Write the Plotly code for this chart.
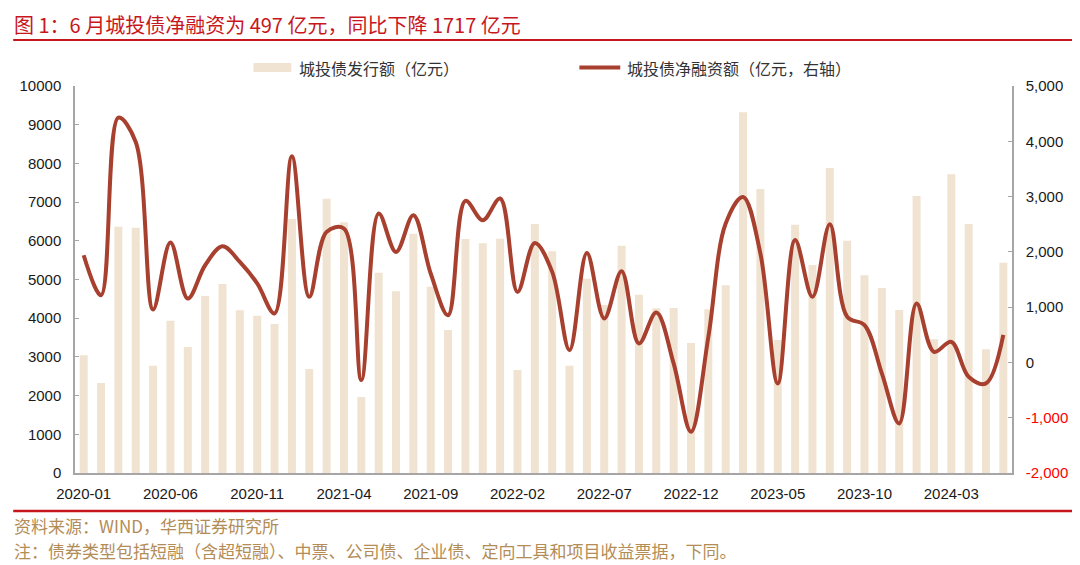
import plotly.graph_objects as go
import pandas as pd

months = [p.strftime("%Y-%m") for p in pd.period_range("2020-01", "2024-06", freq="M")]

issuance = [3041, 2326, 6365, 6339, 2773, 3937, 3256, 4574, 4884, 4203, 4066, 3850,
            6563, 2687, 7089, 6477, 1964, 5176, 4694, 6184, 4815, 3695, 6047, 5935,
            6055, 2662, 6434, 5728, 2773, 5021, 4341, 5874, 4608, 4255, 4264, 3359,
            4229, 4850, 9320, 7339, 3437, 6416, 5375, 7881, 6003, 5108, 4780, 4212,
            7158, 3455, 7718, 6434, 3196, 5434]

net_financing = [1939, 1216, 4428, 3988, 958, 2168, 1156, 1758, 2102, 1818, 1428, 885,
                 3728, 1186, 2361, 2422, -320, 2693, 1999, 2662, 1608, 855, 2921, 2572,
                 2964, 1276, 2162, 1638, 222, 1981, 795, 1650, 343, 903, -18, -1254,
                 460, 2512, 2993, 1970, -380, 2214, 1186, 2500, 825, 674, -199, -1103,
                 1066, 192, 373, -260, -380, 497]

x_tick_labels = months[::5]
left_ticks = list(range(0, 10001, 1000))
right_ticks = list(range(-2000, 5001, 1000))

title_text = "图 1：6 月城投债净融资为 497 亿元，同比下降 1717 亿元"
legend_bar = "城投债发行额（亿元）"
legend_line = "城投债净融资额（亿元，右轴）"
source_text = "资料来源：WIND，华西证券研究所"
note_text = "注：债券类型包括短融（含超短融）、中票、公司债、企业债、定向工具和项目收益票据，下同。"

BAR_COLOR = "#F0E3D1"
LINE_COLOR = "#A8402F"
RED = "#C8161D"
GOLD = "#B38C56"
AXIS = "#A6A6A6"

# page body has an 8px margin; work in page pixels and shift
OFF = 8
PAGE_W, PAGE_H = 1080, 565
W, H = PAGE_W - OFF, PAGE_H - OFF
L, R, T, B = 74, 1014, 86, 473  # plot area in page pixels

def px(xp):
    return (xp - L) / (R - L)

def py(yp):
    return (B - yp) / (B - T)

fig = go.Figure()
fig.add_trace(go.Bar(x=months, y=issuance, name=legend_bar, marker_color=BAR_COLOR,
                     marker_line_width=0, yaxis="y", showlegend=False))
fig.add_trace(go.Scatter(x=months, y=net_financing, name=legend_line, mode="lines",
                         line=dict(color=LINE_COLOR, width=4, shape="spline", smoothing=1.0),
                         yaxis="y2", showlegend=False))

right_text = [f"<span style='color:#FF0000'>{v:,}</span>" if v < 0 else f"{v:,}" for v in right_ticks]

tickfont = dict(family="Liberation Sans, Arial, sans-serif", size=15, color="#1a1a1a")

fig.update_layout(
    width=W, height=H,
    margin=dict(l=L - OFF, r=PAGE_W - R, t=T - OFF, b=PAGE_H - B, pad=0),
    paper_bgcolor="white", plot_bgcolor="white",
    bargap=0.54,
    xaxis=dict(type="category", tickmode="array", tickvals=x_tick_labels, ticktext=x_tick_labels,
               showline=True, linecolor=AXIS, linewidth=1.5, ticks="", showgrid=False,
               tickfont=tickfont, tickangle=0, range=[-0.5, len(months) - 0.5],
               ticklabelstandoff=6),
    yaxis=dict(range=[0, 10000], tickvals=left_ticks, ticktext=[str(v) for v in left_ticks],
               showline=True, linecolor=AXIS, linewidth=1.5, ticks="inside", ticklen=4,
               tickcolor=AXIS, showgrid=False, zeroline=False, tickfont=tickfont,
               ticklabelstandoff=9),
    yaxis2=dict(range=[-2000, 5000], tickvals=right_ticks, ticktext=right_text,
                overlaying="y", side="right", showline=True, linecolor=AXIS, linewidth=1.5,
                ticks="inside", ticklen=4, tickcolor=AXIS, showgrid=False, zeroline=False,
                tickfont=tickfont, ticklabelstandoff=9),
)

shapes = []
shapes.append(dict(type="line", xref="paper", yref="paper", x0=px(12), x1=px(1078),
                   y0=py(40), y1=py(40), line=dict(color=RED, width=2)))
shapes.append(dict(type="line", xref="paper", yref="paper", x0=px(12), x1=px(1078),
                   y0=py(511), y1=py(511), line=dict(color=RED, width=2.5)))
shapes.append(dict(type="rect", xref="paper", yref="paper", x0=px(253), x1=px(291),
                   y0=py(72), y1=py(63), fillcolor=BAR_COLOR, line=dict(width=0)))
shapes.append(dict(type="line", xref="paper", yref="paper", x0=px(580), x1=px(621),
                   y0=py(67.5), y1=py(67.5), line=dict(color=LINE_COLOR, width=4)))
fig.update_layout(shapes=shapes)

cjk = "Noto Sans CJK SC, sans-serif"
annotations = [
    dict(text=title_text, x=px(12), y=py(9), xref="paper", yref="paper", xanchor="left",
         yanchor="top", showarrow=False, borderpad=0,
         font=dict(family=cjk, size=20, color=RED)),
    dict(text=legend_bar, x=px(297), y=py(67.5), xref="paper", yref="paper", xanchor="left",
         yanchor="middle", showarrow=False, font=dict(family=cjk, size=16, color="#333333")),
    dict(text=legend_line, x=px(626), y=py(67.5), xref="paper", yref="paper", xanchor="left",
         yanchor="middle", showarrow=False, font=dict(family=cjk, size=16, color="#333333")),
    dict(text=source_text, x=px(11), y=py(525), xref="paper", yref="paper", xanchor="left",
         yanchor="middle", showarrow=False, font=dict(family=cjk, size=17, color=GOLD)),
    dict(text=note_text, x=px(11), y=py(550), xref="paper", yref="paper", xanchor="left",
         yanchor="middle", showarrow=False, font=dict(family=cjk, size=17, color=GOLD)),
]
fig.update_layout(annotations=annotations)

fig.write_html("out.html")
